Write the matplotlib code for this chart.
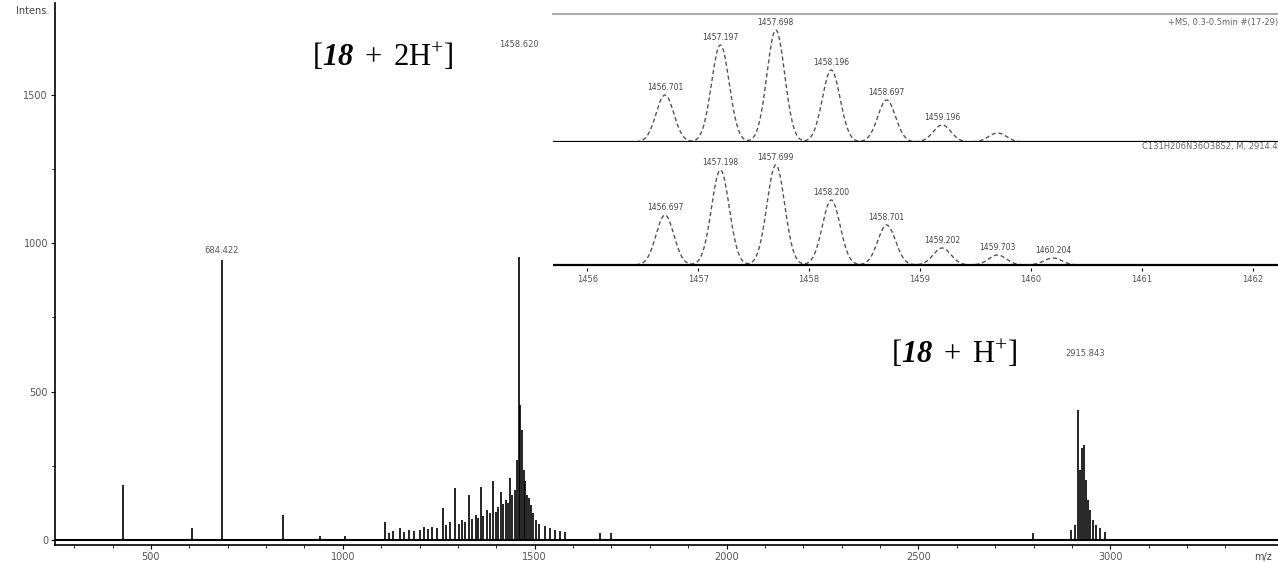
import matplotlib
matplotlib.use("Agg")
import matplotlib.pyplot as plt
import numpy as np

plt.rcParams['mathtext.fontset'] = 'custom'
plt.rcParams['mathtext.rm'] = 'Liberation Serif'
plt.rcParams['mathtext.it'] = 'Liberation Serif:italic'
plt.rcParams['mathtext.bf'] = 'Liberation Serif:bold'
plt.rcParams['mathtext.bfit'] = 'Liberation Serif:italic:bold'

# Main spectrum: stick peaks (m/z, intensity)
main_mz = [426, 606, 684, 843, 940, 1007,
           1109, 1120, 1130, 1148, 1160, 1172, 1185, 1200, 1212, 1221, 1232, 1245, 1260,
           1270, 1280, 1292, 1302, 1310, 1319, 1328, 1337, 1346, 1352, 1359, 1366, 1377,
           1384, 1391, 1398, 1405, 1411, 1418, 1424, 1430, 1435, 1441, 1448, 1453, 1458,
           1461, 1466, 1471, 1475, 1479, 1484, 1490, 1496, 1503, 1512, 1526, 1540, 1552,
           1565, 1578, 1669, 1698,
           2798, 2897, 2907, 2915, 2920, 2926, 2931, 2936, 2941, 2946, 2954, 2962, 2972, 2986]
main_int = [186, 40, 945, 85, 15, 12,
            61, 25, 30, 40, 28, 35, 30, 34, 45, 38, 44, 40, 108,
            50, 60, 175, 55, 67, 60, 152, 70, 84, 75, 179, 80, 101,
            90, 199, 95, 110, 162, 120, 135, 125, 209, 150, 169, 270, 954,
            455, 371, 236, 200, 152, 140, 118, 90, 67, 55, 47, 40, 34,
            30, 27, 24, 25,
            24, 34, 50, 438, 236, 310, 320, 202, 135, 101, 67, 50, 40, 27]

# Inset: isotope pattern of [18 + 2H+]
iso_exp_mz = [1456.70, 1457.20, 1457.70, 1458.20, 1458.70, 1459.20, 1459.70]
iso_exp_int = [47, 97, 112, 72, 42, 17, 9]
iso_exp_lbl = ["1456.701", "1457.197", "1457.698", "1458.196", "1458.697", "1459.196", ""]

iso_sim_mz = [1456.70, 1457.20, 1457.70, 1458.20, 1458.70, 1459.20, 1459.70, 1460.20]
iso_sim_int = [50, 95, 100, 65, 40, 17, 10, 7]
iso_sim_lbl = ["1456.697", "1457.198", "1457.699", "1458.200", "1458.701",
               "1459.202", "1459.703", "1460.204"]

W, H = 1278, 562
fig = plt.figure(figsize=(W / 100, H / 100), dpi=100)

# ---- main spectrum
ax = fig.add_axes([55 / W, 1 - 545 / H, (1278 - 55) / W, (545 - 3) / H])
ax.vlines(main_mz, 0, main_int, color='black', lw=1.2)
ax.axhline(0, color='black', lw=1.5)
ax.set_xlim(250, 3437)
ax.set_ylim(-17, 1810)
for s in ['top', 'right']:
    ax.spines[s].set_visible(False)
ax.spines['left'].set_linewidth(1.2)
ax.spines['bottom'].set_linewidth(1.2)
ax.set_yticks([0, 500, 1000, 1500])
ax.set_yticks([250, 750, 1250], minor=True)
ax.set_xticks([500, 1000, 1500, 2000, 2500, 3000])
ax.set_xticks(np.arange(300, 3400, 100), minor=True)
ax.tick_params(axis='both', which='major', labelsize=7, labelcolor='#555555',
               length=3, pad=2)
ax.tick_params(axis='both', which='minor', length=2)
ax.text(-0.005, 0.985, "Intens.", transform=ax.transAxes, ha='right', va='center',
        fontsize=7, color='#444444')
ax.text(0.995, -0.012, "m/z", transform=ax.transAxes, ha='right', va='top',
        fontsize=7, color='#444444')

lblkw = dict(fontsize=6, color='#555555', ha='center', va='bottom')
ax.text(684, 960, "684.422", **lblkw)
ax.text(2935, 615, "2915.843", **lblkw)
ax.text(1458, 1655, "1458.620", **lblkw)

ax.text(1104, 1630, r"$[\mathbfit{18}\ +\ 2\mathrm{H}^{+}]$", fontsize=22,
        ha='center', va='center')
ax.text(2592, 630, r"$[\mathbfit{18}\ +\ \mathrm{H}^{+}]$", fontsize=22,
        ha='center', va='center')

# ---- inset: experimental isotope pattern
grid = np.linspace(1455.5, 1462.5, 1500)
sig = 0.08

axt = fig.add_axes([553 / W, 1 - 142 / H, (1278 - 553) / W, (142 - 14) / H])
prof = np.zeros_like(grid)
for m, a in zip(iso_exp_mz, iso_exp_int):
    prof += a * np.exp(-0.5 * ((grid - m) / sig) ** 2)
axt.plot(grid, prof, color='#555555', lw=1, ls=(0, (3, 2)))
axt.axhline(0, color='black', lw=1.6)
for m, a, t in zip(iso_exp_mz, iso_exp_int, iso_exp_lbl):
    axt.text(m, a + 3, t, fontsize=5.5, color='#444444', ha='center', va='bottom')
axt.set_xlim(1455.69, 1462.23)
axt.set_ylim(0, 128)
axt.set_xticks([])
axt.set_yticks([])
for s in ['left', 'right', 'bottom']:
    axt.spines[s].set_visible(False)
axt.spines['top'].set_color('#999999')
axt.spines['top'].set_linewidth(1.2)
axt.text(1.0, 0.97, "+MS, 0.3-0.5min #(17-29)", transform=axt.transAxes,
         ha='right', va='top', fontsize=6, color='#666666')

# ---- inset: simulated isotope pattern
axb = fig.add_axes([553 / W, 1 - 268 / H, (1278 - 553) / W, (268 - 142) / H])
prof = np.zeros_like(grid)
for m, a in zip(iso_sim_mz, iso_sim_int):
    prof += a * np.exp(-0.5 * ((grid - m) / sig) ** 2)
axb.plot(grid, prof, color='#555555', lw=1, ls=(0, (3, 2)))
axb.axhline(0, color='black', lw=1.6)
for m, a, t in zip(iso_sim_mz, iso_sim_int, iso_sim_lbl):
    axb.text(m, a + 3, t, fontsize=5.5, color='#444444', ha='center', va='bottom')
axb.set_xlim(1455.69, 1462.23)
axb.set_ylim(-3, 123)
axb.set_xticks([1456, 1457, 1458, 1459, 1460, 1461, 1462])
axb.set_yticks([])
axb.tick_params(axis='x', labelsize=6, labelcolor='#555555', length=2, pad=3)
for s in ['left', 'right', 'top', 'bottom']:
    axb.spines[s].set_visible(False)
axb.text(1.0, 1.0, "C131H206N36O38S2, M, 2914.4", transform=axb.transAxes,
         ha='right', va='top', fontsize=6, color='#666666')

fig.savefig("out.png", dpi=100)
